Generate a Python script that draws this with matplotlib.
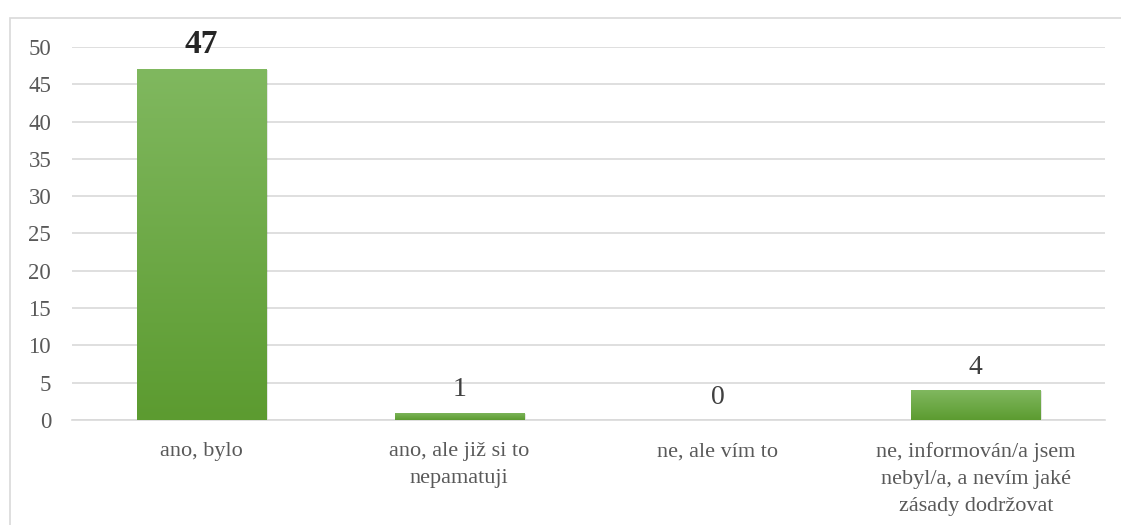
import matplotlib.pyplot as plt
import matplotlib.patches as mpatches
from matplotlib.colors import LinearSegmentedColormap
import numpy as np

# ── data ────────────────────────────────────────────────────────────────
categories = [
    "ano, bylo",
    "ano, ale již si to\nnepamatuji",
    "ne, ale vím to",
    "ne, informován/a jsem\nnebyl/a, a nevím jaké\nzásady dodržovat",
]
counts = [47, 1, 0, 4]
bold_labels = [True, False, False, False]
yticks = [0, 5, 10, 15, 20, 25, 30, 35, 40, 45, 50]

GRID = "#d9d9d9"
TEXT = "#595959"

plt.rcParams["font.family"] = ["Liberation Serif", "DejaVu Serif"]

fig = plt.figure(figsize=(11.21, 5.25), dpi=100)
ax = fig.add_axes([0.0642, 0.2, 0.9215, 0.7105])

# outer chart border
fig.patches.append(mpatches.Rectangle(
    (10 / 1121, -0.05), 1.2, 1 - 18 / 525 + 0.05,
    transform=fig.transFigure, fill=False, edgecolor=GRID, linewidth=1.2,
))

x = np.arange(len(categories))
width = 0.5

# green gradient: lighter at the top, darker at the bottom
grad = np.linspace(0, 1, 256).reshape(-1, 1)
cmap = LinearSegmentedColormap.from_list("g", ["#5c9b30", "#80b85f"])

bars = ax.bar(x, counts, width=width, color="none", zorder=3)
for b, v in zip(bars, counts):
    if v <= 0:
        continue
    x0 = b.get_x()
    # soft shadow
    ax.add_patch(mpatches.Rectangle((x0 + 0.008, -0.15), width, v, facecolor="#000000",
                                    alpha=0.10, zorder=2, linewidth=0))
    im = ax.imshow(grad, extent=(x0, x0 + width, 0, v), origin="lower", cmap=cmap,
                   aspect="auto", zorder=3)
    im.set_clip_path(b)

for xi, v, bold in zip(x, counts, bold_labels):
    ax.text(xi, v + 2.2, str(v), ha="center", va="baseline",
            fontsize=24 if bold else 20,
            fontweight="bold" if bold else "normal",
            color="#262626" if bold else "#404040", zorder=4)

ax.set_xlim(-0.5, len(categories) - 0.5)
ax.set_ylim(0, 50)
ax.set_yticks(yticks)
ax.set_xticks(x)
ax.set_xticklabels(categories, fontsize=16, color=TEXT, linespacing=1.58)
ax.tick_params(axis="y", labelsize=16.5, colors=TEXT, length=0, pad=15)
ax.tick_params(axis="x", length=0, pad=16)
ax.grid(axis="y", color=GRID, linewidth=1.2, zorder=0)
ax.set_axisbelow(True)
for s in ["top", "right", "left"]:
    ax.spines[s].set_visible(False)
ax.spines["bottom"].set_color(GRID)
ax.spines["bottom"].set_linewidth(1.2)

fig.savefig("out.png", dpi=100)
